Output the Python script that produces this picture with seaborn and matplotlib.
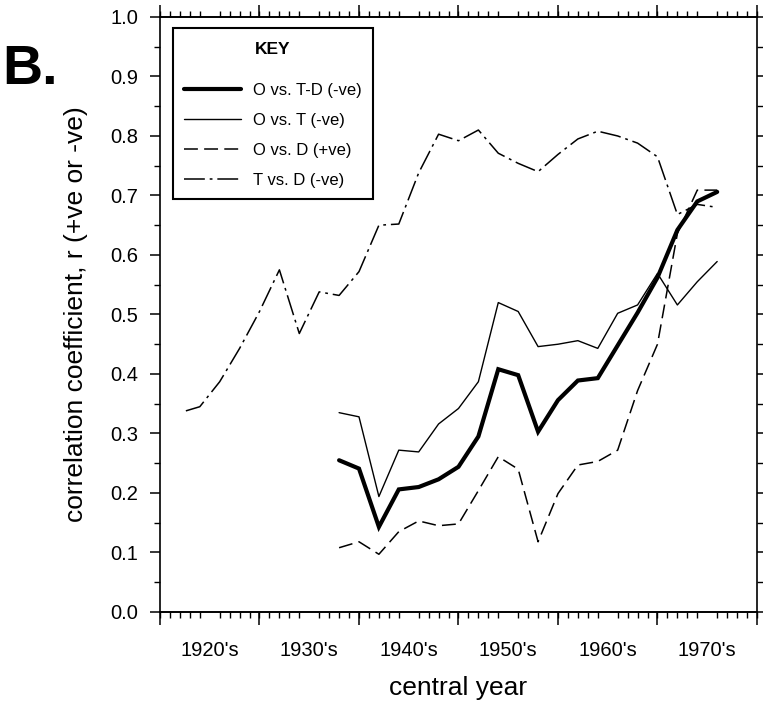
import matplotlib
matplotlib.use("Agg")
import matplotlib.pyplot as plt
import numpy as np
import pandas as pd
import seaborn as sns
from matplotlib.ticker import MultipleLocator

# ---------------- data ----------------
years = [1938, 1940, 1942, 1944, 1946, 1948, 1950, 1952, 1954, 1956,
         1958, 1960, 1962, 1964, 1966, 1968, 1970, 1972, 1974, 1976]
o_vs_td = [0.255, 0.241, 0.143, 0.206, 0.210, 0.223, 0.244, 0.295, 0.408, 0.398,
           0.303, 0.356, 0.389, 0.393, 0.448, 0.503, 0.562, 0.642, 0.690, 0.706]
o_vs_t = [0.335, 0.328, 0.194, 0.272, 0.269, 0.316, 0.342, 0.387, 0.520, 0.505,
          0.446, 0.450, 0.456, 0.443, 0.502, 0.516, 0.569, 0.516, 0.555, 0.589]
o_vs_d = [0.108, 0.118, 0.097, 0.135, 0.153, 0.145, 0.148, 0.204, 0.261, 0.240,
          0.118, 0.199, 0.247, 0.253, 0.272, 0.372, 0.450, 0.636, 0.709, 0.709]

years_td = [1922.6, 1924, 1926, 1928, 1930, 1932, 1934, 1936, 1938, 1940,
            1942, 1944, 1946, 1948, 1950, 1952, 1954, 1956, 1958, 1960,
            1962, 1964, 1966, 1968, 1970, 1972, 1974, 1976]
t_vs_d = [0.338, 0.345, 0.387, 0.443, 0.505, 0.575, 0.468, 0.538, 0.532, 0.572,
          0.650, 0.652, 0.738, 0.803, 0.792, 0.810, 0.771, 0.754, 0.740, 0.769,
          0.795, 0.808, 0.800, 0.788, 0.765, 0.668, 0.685, 0.680]

series_names = ["O vs. T-D (-ve)", "O vs. T (-ve)", "O vs. D (+ve)", "T vs. D (-ve)"]
decade_pos = [1925, 1935, 1945, 1955, 1965, 1975]
decade_labels = ["1920's", "1930's", "1940's", "1950's", "1960's", "1970's"]
decade_ticks = [1920, 1930, 1940, 1950, 1960, 1970, 1980]
y_ticks = [0.0, 0.1, 0.2, 0.3, 0.4, 0.5, 0.6, 0.7, 0.8, 0.9, 1.0]

# ---------------- style ----------------
sns.set_style("ticks")
plt.rcParams['font.family'] = ['Liberation Sans', 'DejaVu Sans']
plt.rcParams['lines.scale_dashes'] = False
for key in ("text.color", "axes.labelcolor", "xtick.color", "ytick.color",
            "axes.edgecolor"):
    plt.rcParams[key] = "black"

fig = plt.figure(figsize=(7.63, 7.04), dpi=100)
ax = fig.add_axes([0.2097, 0.1307, 0.7824, 0.8452])

df_main = pd.DataFrame({"year": years, "td": o_vs_td, "t": o_vs_t, "d": o_vs_d})
df_td = pd.DataFrame({"year": years_td, "r": t_vs_d})

sns.lineplot(data=df_main, x="year", y="td", ax=ax, color="black", linewidth=3.0,
             label=series_names[0], solid_joinstyle="miter")
sns.lineplot(data=df_main, x="year", y="t", ax=ax, color="black", linewidth=1.0,
             label=series_names[1])
sns.lineplot(data=df_main, x="year", y="d", ax=ax, color="black", linewidth=1.1,
             label=series_names[2], linestyle=(0, (10, 4.5)))
sns.lineplot(data=df_td, x="year", y="r", ax=ax, color="black", linewidth=1.1,
             label=series_names[3], linestyle=(0, (15, 3.5, 2, 3.5)))

ax.set_xlim(1920, 1980)
ax.set_ylim(0, 1.0)

for s in ax.spines.values():
    s.set_visible(True)
    s.set_linewidth(1.2)
    s.set_color("black")

# x ticks: labels at decade centres, minor ticks each year
ax.set_xticks(decade_pos)
ax.set_xticklabels(decade_labels)
ax.xaxis.set_minor_locator(MultipleLocator(1))
ax.tick_params(axis="x", which="major", length=0, pad=21, labelsize=14.5,
               top=True, bottom=True, labelcolor="black")
ax.tick_params(axis="x", which="minor", length=4, width=1.0, direction="out",
               top=True, bottom=True, color="black")

# decade ticks (long)
for loc in ("bottom", "top"):
    sec = ax.secondary_xaxis(loc)
    sec.set_xticks(decade_ticks)
    sec.set_xticklabels([])
    sec.tick_params(length=9, width=1.1, direction="out", color="black")
    for s in sec.spines.values():
        s.set_linewidth(1.2)
        s.set_color("black")

# y ticks
ax.set_yticks(y_ticks)
ax.set_yticklabels([f"{v:.1f}" for v in y_ticks])
ax.yaxis.set_minor_locator(MultipleLocator(0.05))
ax.tick_params(axis="y", which="major", length=7.5, width=1.1, direction="out",
               left=True, right=True, labelsize=14.5, pad=8, color="black",
               labelcolor="black")
ax.tick_params(axis="y", which="minor", length=4, width=1.0, direction="out",
               left=True, right=True, color="black")

ax.set_xlabel("central year", fontsize=19, color="black")
ax.xaxis.label.set_va("center")
ax.xaxis.set_label_coords(0.5, -0.128)
ax.set_ylabel("correlation coefficient, r (+ve or -ve)", fontsize=19, color="black")
ax.yaxis.label.set_va("center")
ax.yaxis.set_label_coords(-0.14, 0.5)

# legend / key
handles, labels = ax.get_legend_handles_labels()
leg = ax.legend(handles, labels, title="KEY", loc="upper left",
                bbox_to_anchor=(0.022, 0.981), borderaxespad=0, frameon=True,
                fancybox=False, edgecolor="black", framealpha=1, fontsize=12,
                title_fontproperties={"weight": "bold", "size": 12.5},
                handlelength=3.4, handletextpad=0.75, labelspacing=0.9,
                borderpad=0.65)
leg.get_frame().set_linewidth(1.5)
leg._legend_box.sep = leg._legend_box.sep + 10
for t in leg.get_texts():
    t.set_color("black")
leg.get_title().set_color("black")
leg.get_title().set_y(-3)

fig.text(58 / 763, 1 - 84 / 704, "B.", fontsize=40, fontweight="heavy",
         ha="right", va="baseline", color="black")

fig.savefig("out.png", dpi=100, facecolor="white")
